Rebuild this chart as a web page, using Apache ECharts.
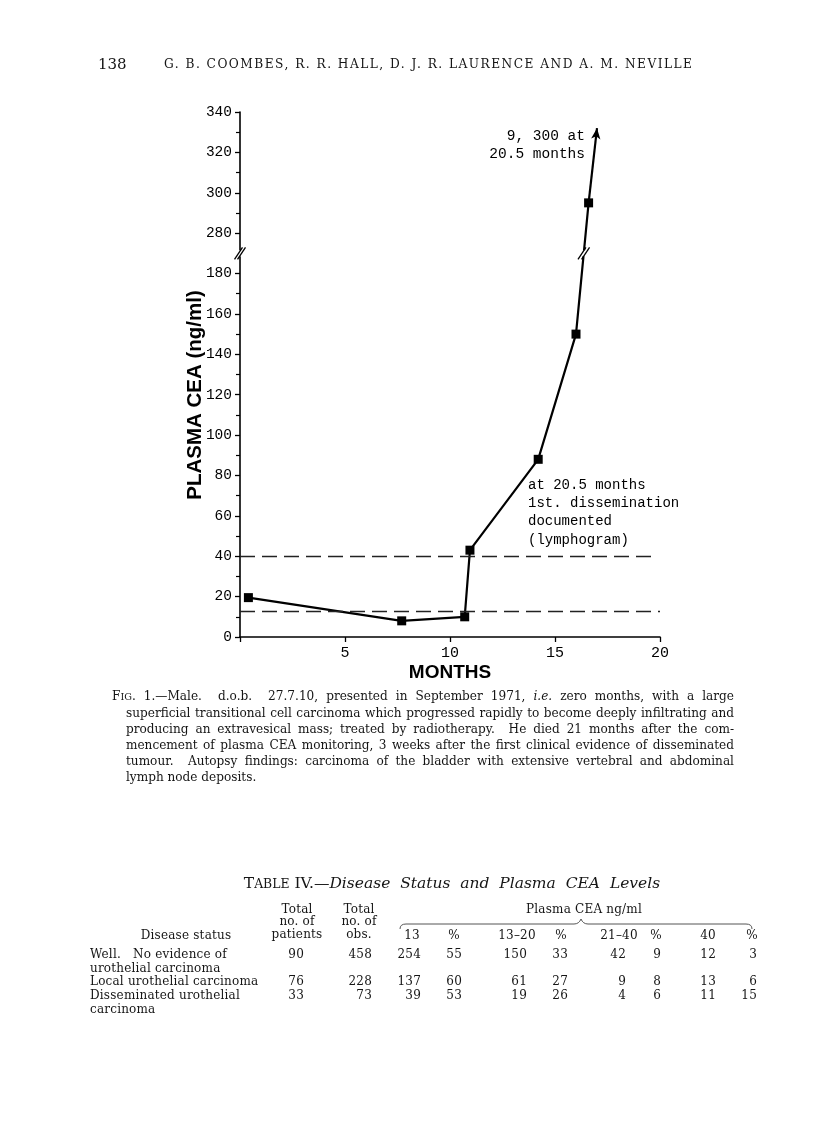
<!DOCTYPE html>
<html>
<head>
<meta charset="utf-8">
<script src="https://cdn.jsdelivr.net/npm/echarts@6/dist/echarts.min.js"></script>
<style>
html,body{margin:0;padding:0;background:#fff;}
#page{position:relative;width:816px;height:1140px;overflow:hidden;background:#fff;}
#chart{position:absolute;left:0;top:0;width:816px;height:1140px;}
.t{position:absolute;font-family:"DejaVu Serif","Liberation Serif",serif;color:#151515;white-space:nowrap;line-height:1;}
.sc{font-size:0.8em;}
.c{transform:translateX(-50%);text-align:center;}
.r{transform:translateX(-100%);text-align:right;}
</style>
</head>
<body>
<div id="page">
  <div id="chart"></div>
  <div id="text"></div>
</div>
<script>
// ---------------- chart data ----------------
const months   = [0.4, 7.7, 10.7, 10.95, 14.2, 16.0, 16.6];
const ceaNgMl  = [19.5, 8, 10, 43, 88, 150, 295];
const offScale = [17.0, 332];             // line continues off scale (9,300 at 20.5 months)
const thresholds = [40, 13];               // dashed reference levels (ng/ml)
const disseminationMonth = 20.5;
const axisBreakAt = 190;                   // axis position of the break
const breakShift = 80;                     // values above break are drawn shifted by this
const yLowerTicks = [0, 20, 40, 60, 80, 100, 120, 140, 160, 180];
const yUpperTicks = [280, 300, 320, 340];
const xTickLabels = ['5', '10', '15', '20'];

// ---------------- page text data ----------------
const pageNumber = '138';
const runningHead = 'G. B. COOMBES, R. R. HALL, D. J. R. LAURENCE AND A. M. NEVILLE';
const captionLines = [
  'F<span class="sc">IG</span>. 1.—Male.&nbsp; d.o.b.&nbsp; 27.7.10, presented in September 1971, <i>i.e.</i> zero months, with a large',
  'superficial transitional cell carcinoma which progressed rapidly to become deeply infiltrating and',
  'producing an extravesical mass; treated by radiotherapy.&nbsp; He died 21 months after the com-',
  'mencement of plasma CEA monitoring, 3 weeks after the first clinical evidence of disseminated',
  'tumour.&nbsp; Autopsy findings: carcinoma of the bladder with extensive vertebral and abdominal',
  'lymph node deposits.'
];
const tableTitle = 'T<span class="sc">ABLE</span> IV.—<i>Disease&nbsp; Status&nbsp; and&nbsp; Plasma&nbsp; CEA&nbsp; Levels</i>';
const diseaseStatus = [['Well.&nbsp;&nbsp; No evidence of', 'urothelial carcinoma'], ['Local urothelial carcinoma'], ['Disseminated urothelial', 'carcinoma']];
const totalPatients = [90, 76, 33];
const totalObs      = [458, 228, 73];
const cea13    = [254, 137, 39];
const pct13    = [55, 60, 53];
const cea13_20 = [150, 61, 19];
const pct13_20 = [33, 27, 26];
const cea21_40 = [42, 9, 4];
const pct21_40 = [9, 8, 6];
const cea40    = [12, 13, 11];
const pct40    = [3, 6, 15];
const ceaHeaders = ['13', '%', '13–20', '%', '21–40', '%', '40', '%'];

// ---------------- chart ----------------
const toAxis = v => (v > axisBreakAt ? v - breakShift : v);
const chart = echarts.init(document.getElementById('chart'), null, {renderer: 'canvas'});
const black = '#000';
const lineData = months.map((m, i) => [m, toAxis(ceaNgMl[i])]);
const lastPt = lineData[lineData.length - 1];
const arrowPt = [offScale[0], toAxis(offScale[1])];
const dashStyle = {color: '#222', width: 1.3, type: [15, 7]};

chart.setOption({
  animation: false,
  grid: {left: 240, right: 156, top: 112, bottom: 503},
  xAxis: {
    type: 'value', min: 0, max: 20, interval: 5,
    axisLine: {lineStyle: {color: black, width: 1.6}},
    axisTick: {length: 5, lineStyle: {color: black, width: 1.3}},
    axisLabel: {
      formatter: v => { const s = String(v); return xTickLabels.indexOf(s) >= 0 ? s : ''; },
      fontFamily: 'Liberation Mono', fontSize: 15, color: black, margin: 9
    },
    splitLine: {show: false},
    name: 'MONTHS', nameLocation: 'middle', nameGap: 26,
    nameTextStyle: {fontFamily: 'Liberation Sans', fontWeight: 'bold', fontSize: 19, color: '#000'}
  },
  yAxis: {
    type: 'value', min: 0, max: 260, interval: 20,
    axisLine: {show: true, lineStyle: {color: black, width: 1.6}},
    axisTick: {show: true, length: 5, lineStyle: {color: black, width: 1.3}},
    minorTick: {show: true, splitNumber: 2, length: 4, lineStyle: {color: black, width: 1.2}},
    axisLabel: {
      formatter: v => {
        if (v <= axisBreakAt) return yLowerTicks.indexOf(v) >= 0 ? String(v) : '';
        const real = v + breakShift;
        return yUpperTicks.indexOf(real) >= 0 ? String(real) : '';
      },
      fontFamily: 'Liberation Mono', fontSize: 14.5, color: black, margin: 8
    },
    splitLine: {show: false}, minorSplitLine: {show: false}
  },
  series: [{
    type: 'line', data: lineData, clip: false,
    symbol: 'rect', symbolSize: 9,
    itemStyle: {color: '#000'},
    lineStyle: {color: '#000', width: 2.2},
    markLine: {
      silent: true, symbol: 'none', label: {show: false},
      data: [
        [{coord: [0, thresholds[0]], lineStyle: dashStyle}, {coord: [19.85, thresholds[0]]}],
        [{coord: [0, thresholds[1]], lineStyle: dashStyle}, {coord: [20, thresholds[1]]}],
        [{coord: lastPt, symbol: 'none', lineStyle: {color: '#000', width: 2.2, type: 'solid'}},
         {coord: arrowPt, symbol: 'arrow', symbolSize: [7, 11]}],
        [{coord: [disseminationMonth, 61], symbol: 'none', lineStyle: {color: '#000', width: 1.4, type: 'solid'}},
         {coord: [disseminationMonth, 42], symbol: 'arrow', symbolSize: [7, 10]}]
      ]
    }
  }]
});

// break marks, positioned through the chart's own scales
const pB = chart.convertToPixel({gridIndex: 0}, [0, axisBreakAt]);
const p6 = chart.convertToPixel({gridIndex: 0}, lineData[5]);
const p7 = chart.convertToPixel({gridIndex: 0}, lineData[6]);
const tb = (axisBreakAt - lineData[5][1]) / (lineData[6][1] - lineData[5][1]);
const pL = [p6[0] + (p7[0] - p6[0]) * tb, p6[1] + (p7[1] - p6[1]) * tb];
const slash = (cx, cy, dx) => ({type: 'line', z: 120,
  shape: {x1: cx + dx - 4, y1: cy + 6, x2: cx + dx + 4, y2: cy - 6},
  style: {stroke: '#000', lineWidth: 1.3}});

chart.setOption({
  graphic: [
    {type: 'rect', z: 110, shape: {x: pB[0] - 7, y: pB[1] - 3, width: 14, height: 6}, style: {fill: '#fff'}},
    slash(pB[0], pB[1], -1.5), slash(pB[0], pB[1], 1.5),
    {type: 'rect', z: 110, shape: {x: pL[0] - 5, y: pL[1] - 3, width: 10, height: 6}, style: {fill: '#fff'}},
    slash(pL[0], pL[1], -1.8), slash(pL[0], pL[1], 1.8),
    {type: 'text', z: 130, x: 195, y: 395, rotation: Math.PI / 2,
      style: {text: 'PLASMA CEA (ng/ml)', align: 'center', verticalAlign: 'middle',
        font: 'bold 20.5px "Liberation Sans"', fill: '#000'}},
    {type: 'text', z: 130, style: {text: '9, 300 at\n20.5 months', x: 585, y: 127, align: 'right', verticalAlign: 'top',
        font: '14.5px "Liberation Mono"', lineHeight: 18, fill: black}},
    {type: 'text', z: 130, style: {text: 'at 20.5 months\n1st. dissemination\ndocumented\n(lymphogram)', x: 528, y: 476,
        align: 'left', verticalAlign: 'top', font: '14px "Liberation Mono"', lineHeight: 18.3, fill: black}}
  ]
});

// ---------------- page text (HTML) ----------------
const host = document.getElementById('text');
function add(html, cls, x, y, size, extra) {
  const d = document.createElement('div');
  d.className = cls;
  d.innerHTML = html;
  d.style.left = x + 'px';
  d.style.top = (y - size * 0.55) + 'px';
  d.style.fontSize = size + 'px';
  if (extra) Object.assign(d.style, extra);
  host.appendChild(d);
  return d;
}
function fitLetters(el, target) {
  const w = el.getBoundingClientRect().width;
  el.style.letterSpacing = ((target - w) / (el.textContent.length - 1)) + 'px';
}
function fitWords(el, target) {
  const w = el.getBoundingClientRect().width;
  const n = (el.textContent.match(/[ \u00a0]/g) || []).length;
  if (n) el.style.wordSpacing = ((target - w) / n) + 'px';
}
add(pageNumber, 't', 98, 65, 15);
fitLetters(add(runningHead, 't', 164, 65, 12.2), 528);

const capSize = 12.1;
captionLines.forEach((ln, i) => {
  const left = i === 0 ? 112 : 126;
  const d = add(ln, 't', left, 697 + i * 16.2, capSize);
  if (i < captionLines.length - 1) fitWords(d, 734 - left);
});

const title = add(tableTitle, 't', 0, 885, 15.5);
const tw = title.getBoundingClientRect().width;
title.style.left = (452 - tw / 2) + 'px';

const fs = 12;
const ls = {letterSpacing: '0.2px'};
// header block
add('Total', 't c', 297, 910, fs, ls); add('no. of', 't c', 297, 922, fs, ls); add('patients', 't c', 297, 935, fs, ls);
add('Total', 't c', 359, 910, fs, ls); add('no. of', 't c', 359, 922, fs, ls); add('obs.', 't c', 359, 935, fs, ls);
add('Disease status', 't c', 186, 936, fs, ls);
add('Plasma CEA ng/ml', 't c', 584, 910, fs, ls);
const subX = [412, 454, 517, 561, 619, 656, 708, 752];
ceaHeaders.forEach((h, i) => add(h, 't c', subX[i], 936, fs, ls));
// brace
const svgNS = 'http://www.w3.org/2000/svg';
const svg = document.createElementNS(svgNS, 'svg');
svg.setAttribute('width', '816'); svg.setAttribute('height', '40');
svg.style.position = 'absolute'; svg.style.left = '0'; svg.style.top = '910px';
const path = document.createElementNS(svgNS, 'path');
path.setAttribute('d', 'M400 19 Q400 14 406 14 L574 14 Q579 14 581 9 Q583 14 588 14 L746 14 Q752 14 752 19');
path.setAttribute('fill', 'none'); path.setAttribute('stroke', '#555'); path.setAttribute('stroke-width', '1');
svg.appendChild(path); host.appendChild(svg);

// body rows
const rowY = [955, 982, 996];
const numCols = [
  [totalPatients, 304], [totalObs, 372], [cea13, 421], [pct13, 462], [cea13_20, 527], [pct13_20, 568],
  [cea21_40, 626], [pct21_40, 661], [cea40, 716], [pct40, 757]
];
diseaseStatus.forEach((lines, r) => {
  lines.forEach((s, k) => add(s, 't', 90, rowY[r] + k * 13.5, fs, ls));
  numCols.forEach(([arr, xr]) => add(String(arr[r]), 't r', xr, rowY[r], fs, ls));
});
</script>
</body>
</html>
